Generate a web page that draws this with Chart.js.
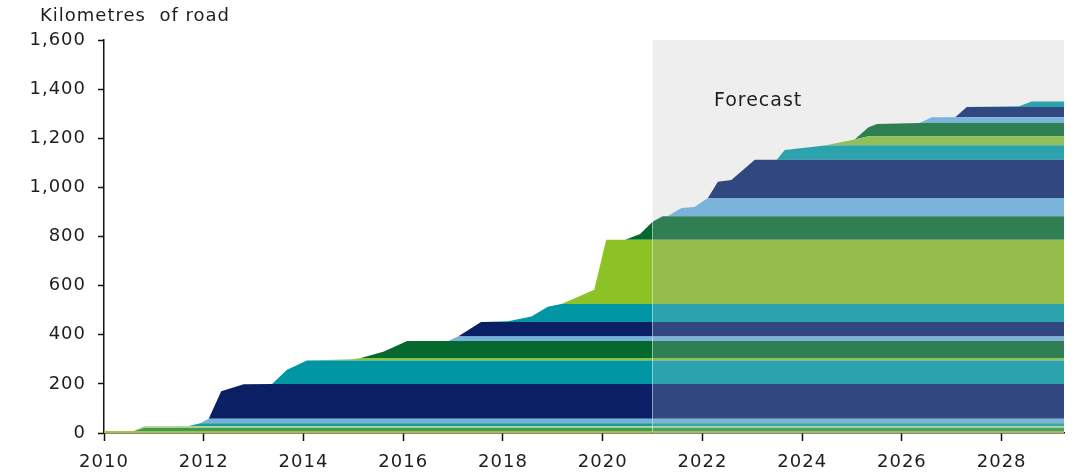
<!DOCTYPE html>
<html>
<head>
<meta charset="utf-8">
<script src="https://cdn.jsdelivr.net/npm/chart.js@4/dist/chart.umd.min.js"></script>
<style>
  html, body { margin: 0; padding: 0; background: #fff; }
  #wrap { width: 1076px; height: 476px; }
</style>
</head>
<body>
<div id="wrap"><canvas id="lienzo"></canvas></div>
<script>
// envelope of the stack: time (years) and cumulative km of road
const years = [2010.0, 2010.6, 2010.8, 2011.7, 2011.93, 2012.1, 2012.35, 2012.8, 2013.37, 2013.67,
  2014.07, 2015.0, 2015.15, 2015.6, 2016.08, 2016.9, 2017.1, 2017.56, 2018.1, 2018.57,
  2018.9, 2019.17, 2019.43, 2019.83, 2020.07, 2020.45, 2020.75, 2021.0, 2021.2, 2021.3,
  2021.58, 2021.84, 2022.11, 2022.31, 2022.58, 2023.05, 2023.49, 2023.65, 2024.45, 2025.05,
  2025.33, 2025.5, 2026.35, 2026.6, 2027.07, 2027.3, 2028.35, 2028.6, 2029.25]
const totalKm = [8, 8, 27, 28, 40, 58, 170, 198, 200, 257,
  295, 300, 305, 331, 375, 375, 393, 452, 455, 474,
  514, 525, 548, 583, 787, 787, 810, 860, 882, 882,
  916, 920, 957, 1023, 1030, 1112, 1112, 1152, 1170, 1195,
  1245, 1258, 1262, 1286, 1286, 1327, 1330, 1350, 1350]

// upper edge (km) of each coloured band, bottom to top
const bandTops = [8, 20, 27, 40, 58, 200, 295, 305, 375, 393, 452, 525, 787, 882,
  957, 1112, 1172, 1208, 1262, 1286, 1327, 1350]
const bandColours = ['#a4c43c', '#3f9a55', '#a6d28c', '#1e9a98', '#72b2dc', '#0b1f64', '#0096a3', '#8cc43c',
  '#05692f', '#74b3df', '#0b1f64', '#0096a3', '#8dc227', '#05692f',
  '#74b3df', '#0b1f64', '#0096a3', '#8cc43c', '#05692f', '#74b3df', '#0b1f64', '#0096a3']
const forecastColours = ['#9cc05a', '#4f9e68', '#a6d28c', '#3aa5a8', '#7ab4d8', '#30487f', '#2ca2ad', '#8fc05a',
  '#2f7f52', '#7ab4da', '#30487f', '#2ca2ad', '#94bd4b', '#2f7f52',
  '#7ab4da', '#30487f', '#2ca2ad', '#8fc05a', '#2f7f52', '#7ab4da', '#30487f', '#2ca2ad']

const forecastStart = 2021
const xTicks = [2010, 2012, 2014, 2016, 2018, 2020, 2022, 2024, 2026, 2028]
const yTicks = [0, 200, 400, 600, 800, 1000, 1200, 1400, 1600]

const fuente = '"DejaVu Sans", Verdana, sans-serif'
const texto = '#1e1e1e'

let datasets = []
bandTops.forEach((tope, i) => {
    datasets.push({
        data: years.map((x, j) => ({x: x, y: Math.min(totalKm[j], tope)})),
        fill: i == 0 ? 'origin' : '-1',
        backgroundColor: bandColours[i],
        borderWidth: 0,
        pointRadius: 0,
        tension: 0,
        segment: {
            backgroundColor: c => c.p0.parsed.x >= forecastStart ? forecastColours[i] : bandColours[i]
        }
    })
})

const espaciado = {
    id: 'espaciado',
    beforeLayout(chart) { chart.ctx.letterSpacing = '1px' },
    beforeDraw(chart) { chart.ctx.letterSpacing = '1px' }
}

const pronostico = {
    id: 'pronostico',
    beforeDatasetsDraw(chart) {
        const {ctx, chartArea, scales} = chart
        const x0 = scales.x.getPixelForValue(forecastStart)
        ctx.save()
        ctx.fillStyle = '#eeeeee'
        ctx.fillRect(x0, chartArea.top, chartArea.right - x0, chartArea.bottom - chartArea.top)
        ctx.restore()
    },
    afterDraw(chart) {
        const {ctx, scales} = chart
        ctx.save()
        ctx.letterSpacing = '1px'
        ctx.fillStyle = texto
        ctx.textBaseline = 'middle'
        ctx.textAlign = 'left'
        ctx.font = '19px ' + fuente
        ctx.fillText('Forecast', scales.x.getPixelForValue(2022.23), scales.y.getPixelForValue(1350))
        ctx.font = '18px ' + fuente
        ctx.fillText('Kilometres  of road', 40, 16)
        ctx.restore()
    }
}

new Chart(document.getElementById('lienzo'), {
    type: 'line',
    data: { datasets: datasets },
    options: {
        responsive: true,
        maintainAspectRatio: false,
        animation: false,
        events: [],
        layout: { padding: { top: 40, right: 12, left: 0, bottom: 0 } },
        plugins: {
            legend: { display: false },
            tooltip: { enabled: false },
            filler: { propagate: false }
        },
        scales: {
            x: {
                type: 'linear',
                min: 2010,
                max: 2029.25,
                z: 1,
                afterFit: s => { s.height = 43 },
                afterBuildTicks: s => { s.ticks = xTicks.map(v => ({value: v})) },
                grid: { drawOnChartArea: false, drawTicks: true, tickLength: 8, tickColor: '#111', tickWidth: 1.5 },
                border: { color: '#111', width: 1.5 },
                ticks: {
                    color: texto,
                    padding: 11,
                    maxRotation: 0,
                    autoSkip: false,
                    font: { family: fuente, size: 18 },
                    callback: v => String(v)
                }
            },
            y: {
                min: 0,
                max: 1600,
                z: 1,
                afterFit: s => { s.width = 104 },
                afterBuildTicks: s => { s.ticks = yTicks.map(v => ({value: v})) },
                grid: { drawOnChartArea: false, drawTicks: true, tickLength: 6, tickColor: '#111', tickWidth: 1.5 },
                border: { color: '#111', width: 1.5 },
                ticks: {
                    color: texto,
                    padding: 12,
                    font: { family: fuente, size: 18 },
                    callback: v => v.toLocaleString('en-US')
                }
            }
        }
    },
    plugins: [espaciado, pronostico]
})
</script>
</body>
</html>
